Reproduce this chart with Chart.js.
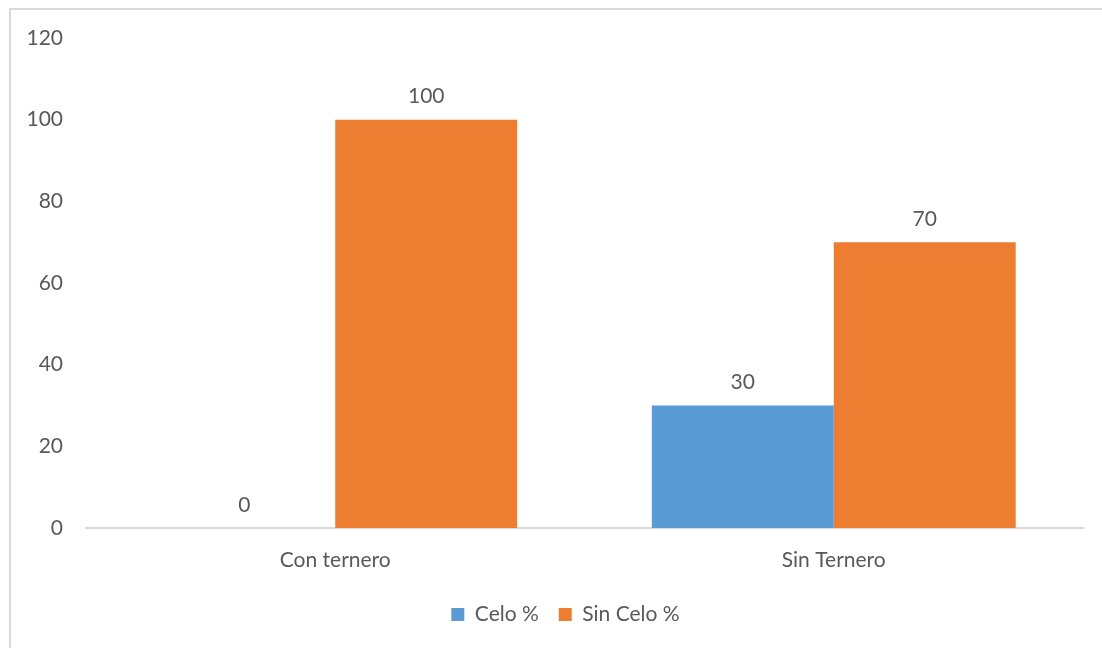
<!DOCTYPE html>
<html>
<head>
<meta charset="utf-8">
<script src="https://cdn.jsdelivr.net/npm/chart.js@4"></script>
<style>
  html, body { margin: 0; padding: 0; background: #fff; }
  #wrap { position: relative; width: 1102px; height: 648px; overflow: hidden; }
  #frame { position: absolute; left: 9px; top: 8px; width: 1200px; height: 700px;
           border-top: 2px solid #d9d9d9; border-left: 2px solid #d9d9d9; }
  canvas { position: absolute; left: 0; top: 0; }
</style>
</head>
<body>
<div id="wrap">
  <div id="frame"></div>
  <canvas id="grafico" width="1102" height="648"></canvas>
</div>
<script>
var categorias = ["Con ternero", "Sin Ternero"];
var celo = [0, 30];
var sinCelo = [100, 70];
var ticksY = [0, 20, 40, 60, 80, 100, 120];

var colorTexto = "#595959";
var fuente = "Lato, 'Open Sans', sans-serif";

// dibuja el valor encima de cada barra
var etiquetas = {
  id: "etiquetas",
  afterDatasetsDraw: function (chart) {
    var ctx = chart.ctx;
    ctx.save();
    ctx.font = "21px " + fuente;
    ctx.fillStyle = colorTexto;
    ctx.textAlign = "center";
    ctx.textBaseline = "middle";
    chart.data.datasets.forEach(function (ds, i) {
      chart.getDatasetMeta(i).data.forEach(function (bar, j) {
        ctx.fillText(ds.data[j], bar.x, bar.y - 23);
      });
    });
    ctx.restore();
  }
};

// corre la leyenda un poco a la derecha, como en el original
var leyendaCorrida = {
  id: "leyendaCorrida",
  afterLayout: function (chart) {
    var lg = chart.legend;
    if (!lg) return;
    lg.left += 24;
    lg.right += 24;
  }
};

var context = document.querySelector("#grafico");

var grafico = new Chart(context, {
  type: "bar",
  plugins: [etiquetas, leyendaCorrida],
  data: {
    labels: categorias,
    datasets: [
      { label: "Celo %", data: celo, backgroundColor: "#5b9bd5" },
      { label: "Sin Celo %", data: sinCelo, backgroundColor: "#ed7d31" }
    ]
  },
  options: {
    responsive: false,
    animation: false,
    devicePixelRatio: 1,
    layout: { padding: { left: 0, right: 19, top: 38, bottom: 13 } },
    datasets: {
      bar: { categoryPercentage: 0.73, barPercentage: 1 }
    },
    plugins: {
      tooltip: { enabled: false },
      legend: {
        position: "bottom",
        labels: {
          boxWidth: 13,
          boxHeight: 13,
          padding: 20,
          color: colorTexto,
          font: { size: 21, family: fuente }
        }
      }
    },
    scales: {
      x: {
        grid: { display: false, drawTicks: false },
        border: { display: true, color: "#d9d9d9", width: 2 },
        ticks: { color: colorTexto, padding: 20, font: { size: 21, family: fuente } },
        afterFit: function (scale) { scale.height = 56; }
      },
      y: {
        min: 0,
        max: 120,
        afterBuildTicks: function (scale) {
          scale.ticks = ticksY.map(function (v) { return { value: v }; });
        },
        grid: { display: false, drawTicks: false },
        border: { display: false },
        ticks: { color: colorTexto, padding: 23, font: { size: 21, family: fuente } },
        afterFit: function (scale) { scale.width = 86; }
      }
    }
  }
});
</script>
</body>
</html>
